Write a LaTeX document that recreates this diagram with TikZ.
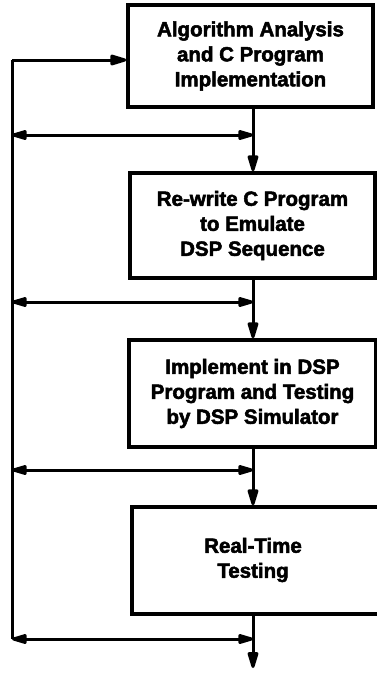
\documentclass[tikz,border=0pt]{standalone}
\usepackage{fontspec}
\setmainfont{Liberation Sans}[BoldFeatures={FakeBold=2.5}]
\usetikzlibrary{arrows.meta}
\begin{document}
\begin{tikzpicture}[x=1pt,y=-1pt,
  stepbox/.style={draw,line width=3.5pt,inner sep=0pt,align=center,
    font=\bfseries\fontsize{20.5}{25}\selectfont},
  boxtext/.style={align=center,inner sep=0pt,font=\bfseries\fontsize{20.5}{25}\selectfont},
  conn/.style={line width=3pt},
  tip/.style={-{Triangle[length=20pt,width=11pt,round]}},
  twotip/.style={{Triangle[length=19pt,width=10pt,round]}-{Triangle[length=19pt,width=10pt,round]}}]
\useasboundingbox (0,0) rectangle (377,678);
% boxes
\node[stepbox,minimum width=245pt,minimum height=102pt] (b1) at (250.5,56)
  {Algorithm Analysis\\and C Program\\Implementation};
\node[stepbox,minimum width=245pt,minimum height=105pt] (b2) at (252.5,225.5)
  {Re-write C Program\\to Emulate\\DSP Sequence};
\node[stepbox,minimum width=247pt,minimum height=107pt] (b3) at (252.5,393.5)
  {Implement in DSP\\Program and Testing\\by DSP Simulator};
\node[draw,line width=3.5pt,inner sep=0pt,minimum width=280pt,minimum height=107pt] (b4) at (272,560.5) {};
\node[boxtext] (t4) at (253,560) {Real-Time\\Testing};
% coordinates
\coordinate (spine) at (253,0);
\coordinate (lt) at (12,60);
\coordinate (l1) at (12,135);
\coordinate (j1) at (253,135);
\coordinate (l2) at (12,302);
\coordinate (j2) at (253,302);
\coordinate (l3) at (12,470);
\coordinate (j3) at (253,470);
\coordinate (l4) at (12,639);
\coordinate (j4) at (253,639);
\coordinate (out) at (253,668);
% spine
\draw[conn,tip] (b1.south -| spine) -- (b2.north -| spine);
\draw[conn,tip] (b2.south -| spine) -- (b3.north -| spine);
\draw[conn,tip] (b3.south -| spine) -- (b4.north -| spine);
\draw[conn,tip] (b4.south -| spine) -- (out);
% feedback
\draw[conn] (l4) -- (lt);
\draw[conn,tip] (lt) -- (lt -| b1.west);
\draw[conn,twotip] (l1) -- (j1);
\draw[conn,twotip] (l2) -- (j2);
\draw[conn,twotip] (l3) -- (j3);
\draw[conn,twotip] (l4) -- (j4);
\end{tikzpicture}
\end{document}
